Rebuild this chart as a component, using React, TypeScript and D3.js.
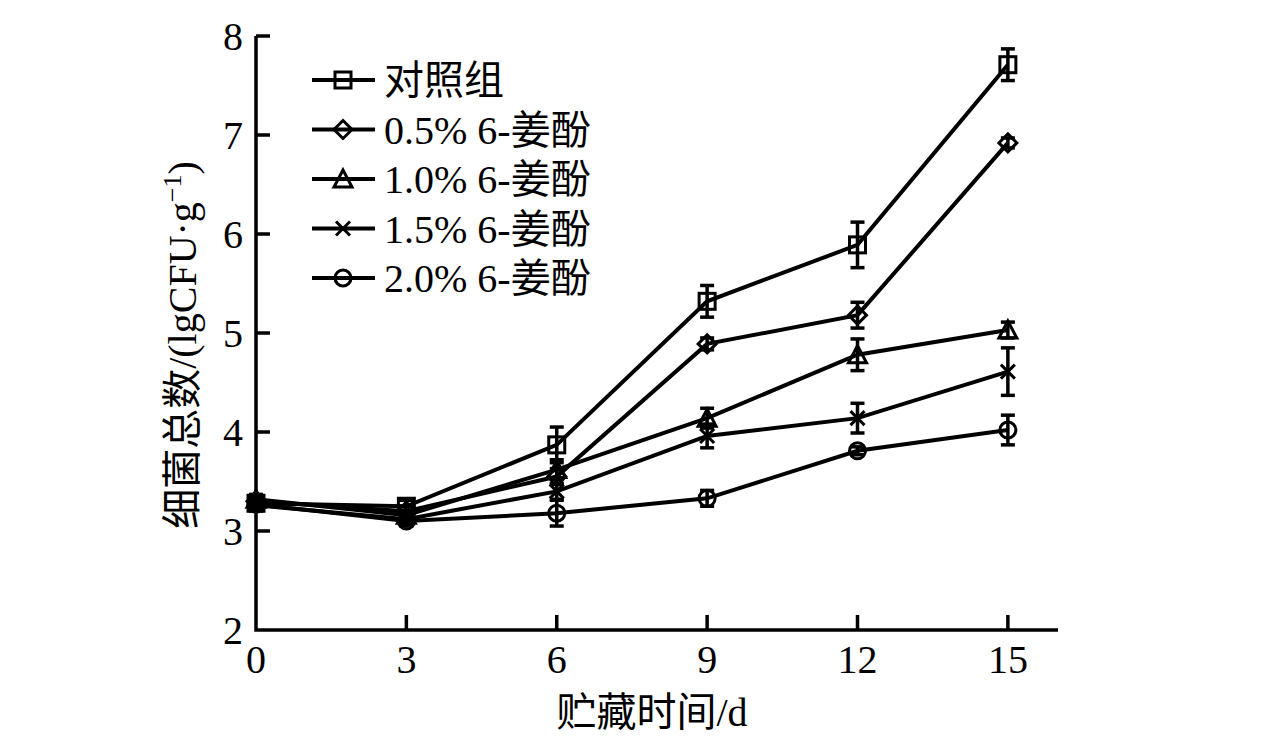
import React from 'react';
import * as d3 from 'd3';

// storage days
const days = [0, 3, 6, 9, 12, 15];

const seriesNames = ['对照组', '0.5% 6-姜酚', '1.0% 6-姜酚', '1.5% 6-姜酚', '2.0% 6-姜酚'];
const markerKinds = ['square', 'diamond', 'triangle', 'cross', 'circle'];

const controlVals = [3.28, 3.25, 3.87, 5.32, 5.89, 7.71];
const controlErr = [0.05, 0.06, 0.18, 0.16, 0.23, 0.16];
const g05Vals = [3.3, 3.2, 3.55, 4.89, 5.18, 6.92];
const g05Err = [0.04, 0.05, 0.08, 0.06, 0.13, 0.05];
const g10Vals = [3.32, 3.16, 3.62, 4.14, 4.78, 5.03];
const g10Err = [0.05, 0.05, 0.1, 0.1, 0.16, 0.08];
const g15Vals = [3.26, 3.12, 3.4, 3.96, 4.14, 4.61];
const g15Err = [0.04, 0.04, 0.08, 0.12, 0.15, 0.24];
const g20Vals = [3.27, 3.1, 3.18, 3.33, 3.81, 4.02];
const g20Err = [0.04, 0.05, 0.13, 0.08, 0.04, 0.15];

const xTicks = [0, 3, 6, 9, 12, 15];
const yTicks = [2, 3, 4, 5, 6, 7, 8];

const allVals = [controlVals, g05Vals, g10Vals, g15Vals, g20Vals];
const allErr = [controlErr, g05Err, g10Err, g15Err, g20Err];

const W = 1276;
const H = 737;
const FONT = '"Liberation Serif", "Times New Roman", "Noto Sans CJK SC", serif';
const FS = 40;

const x = d3.scaleLinear().domain([0, 16]).range([256, 1058]);
const y = d3.scaleLinear().domain([2, 8]).range([630, 36]);

function Marker({ kind, cx, cy }: { kind: string; cx: number; cy: number }) {
  const s = 8;
  const common = { fill: 'none', stroke: '#000', strokeWidth: 3 };
  if (kind === 'square') return <rect x={cx - s} y={cy - s} width={2 * s} height={2 * s} {...common} />;
  if (kind === 'diamond')
    return <path d={`M${cx},${cy - 9}L${cx + 9},${cy}L${cx},${cy + 9}L${cx - 9},${cy}Z`} {...common} />;
  if (kind === 'triangle')
    return <path d={`M${cx},${cy - 9}L${cx + 9},${cy + 8}L${cx - 9},${cy + 8}Z`} {...common} />;
  if (kind === 'cross')
    return (
      <path d={`M${cx - 7},${cy - 7}L${cx + 7},${cy + 7}M${cx + 7},${cy - 7}L${cx - 7},${cy + 7}`} {...common} />
    );
  return <circle cx={cx} cy={cy} r={8} {...common} />;
}

export default function App() {
  const line = d3
    .line<number>()
    .x((_, i) => x(days[i]))
    .y((d) => y(d));

  return (
    <svg width={W} height={H} style={{ position: 'absolute', left: 0, top: 0, background: '#fff' }} fontFamily={FONT}>
      {/* axes */}
      <path d={`M${x(0)},${y(8)}V${y(2)}H${x(16)}`} fill="none" stroke="#000" strokeWidth={3.5} />
      {yTicks.map((t) => (
        <g key={'y' + t}>
          {t > 2 && <line x1={x(0)} x2={x(0) + 14} y1={y(t)} y2={y(t)} stroke="#000" strokeWidth={3.5} />}
          <text x={243} y={y(t)} dy="0.36em" textAnchor="end" fontSize={FS}>
            {t}
          </text>
        </g>
      ))}
      {xTicks.map((t) => (
        <g key={'x' + t}>
          {t > 0 && <line x1={x(t)} x2={x(t)} y1={y(2)} y2={y(2) - 15} stroke="#000" strokeWidth={3.5} />}
          <text x={x(t)} y={673} textAnchor="middle" fontSize={FS}>
            {t}
          </text>
        </g>
      ))}
      <text x={652} y={726} textAnchor="middle" fontSize={FS}>
        贮藏时间/d
      </text>
      <text transform={`translate(196,345) rotate(-90)`} textAnchor="middle" fontSize={FS}>
        细菌总数/(lgCFU·g<tspan dy={-15} fontSize={26}>−1</tspan>
        <tspan dy={15}>)</tspan>
      </text>

      {/* series */}
      {allVals.map((vals, si) => (
        <g key={'s' + si}>
          <path d={line(vals) || ''} fill="none" stroke="#000" strokeWidth={4} />
          {vals.map((v, i) => {
            const e = allErr[si][i];
            const cx = x(days[i]);
            return (
              <g key={i} stroke="#000" strokeWidth={3.5}>
                <line x1={cx} x2={cx} y1={y(v + e)} y2={y(v - e)} />
                <line x1={cx - 7} x2={cx + 7} y1={y(v + e)} y2={y(v + e)} />
                <line x1={cx - 7} x2={cx + 7} y1={y(v - e)} y2={y(v - e)} />
              </g>
            );
          })}
          {vals.map((v, i) => (
            <Marker key={'m' + i} kind={markerKinds[si]} cx={x(days[i])} cy={y(v)} />
          ))}
        </g>
      ))}

      {/* legend */}
      {seriesNames.map((name, i) => {
        const ly = 80 + i * 49.5;
        return (
          <g key={'l' + i}>
            <line x1={312} x2={375} y1={ly} y2={ly} stroke="#000" strokeWidth={4} />
            <Marker kind={markerKinds[i]} cx={343} cy={ly} />
            <text x={384} y={ly} dy="0.36em" fontSize={FS}>
              {name}
            </text>
          </g>
        );
      })}
    </svg>
  );
}
